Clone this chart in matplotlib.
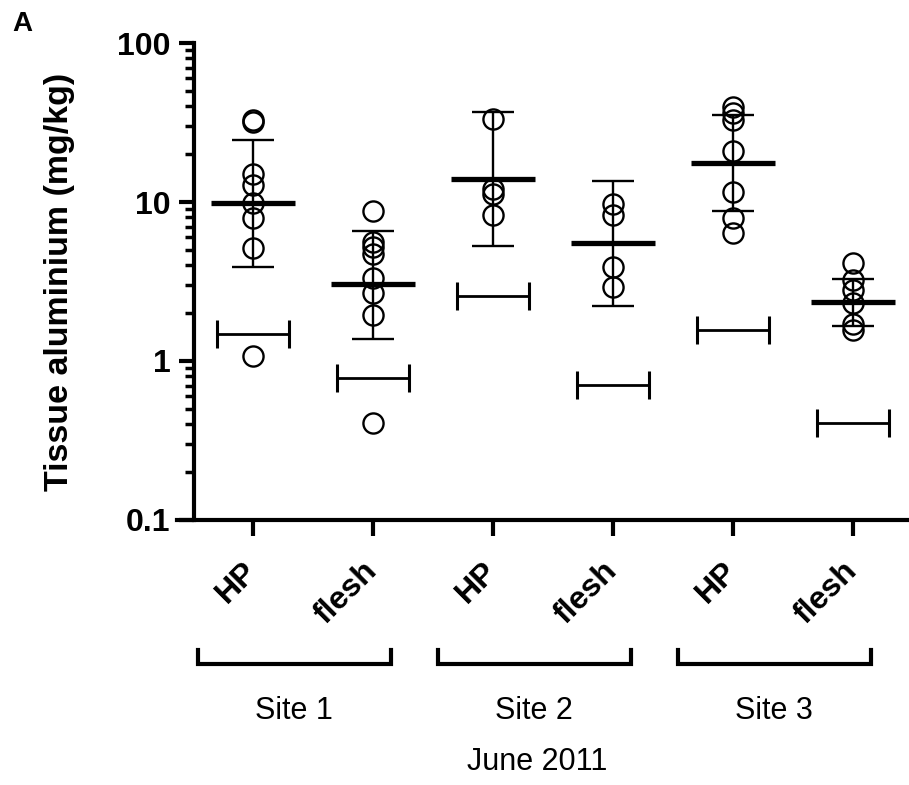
import numpy as np
import matplotlib
matplotlib.use("Agg")
import matplotlib.pyplot as plt
import matplotlib.transforms as mtransforms

plt.rcParams['font.family'] = ['Liberation Sans', 'DejaVu Sans']

# groups along the x axis
groups = ["HP", "flesh", "HP", "flesh", "HP", "flesh"]
sites = ["Site 1", "Site 2", "Site 3"]

# individual measurements (mg/kg)
hp_site1 = [32.9, 31.8, 15.1, 12.8, 9.9, 7.96, 5.14, 1.07]
flesh_site1 = [8.8, 5.6, 5.2, 4.7, 3.35, 2.67, 1.96, 0.41]
hp_site2 = [33.4, 12.0, 11.3, 8.24]
flesh_site2 = [9.67, 8.24, 3.88, 2.94]
hp_site3 = [39.5, 36.2, 32.6, 20.8, 11.6, 7.96, 6.4]
flesh_site3 = [4.13, 3.24, 2.80, 2.30, 1.72, 1.56]
points = [hp_site1, flesh_site1, hp_site2, flesh_site2, hp_site3, flesh_site3]

# mean line and error bar ends
means = [9.8, 3.05, 13.9, 5.5, 17.6, 2.35]
err_low = [3.9, 1.38, 5.3, 2.22, 8.8, 1.65]
err_high = [24.7, 6.6, 36.6, 13.6, 35.2, 3.3]

# separate reference bars below each group
ref_vals = [1.48, 0.78, 2.56, 0.71, 1.56, 0.41]

fig = plt.figure(figsize=(9.09, 7.85), dpi=100)
ax = fig.add_axes([194 / 909, 0.3376, 715 / 909, 0.6076])

x = np.arange(len(groups))

for i, vals in enumerate(points):
    ax.plot([x[i]] * len(vals), vals, 'o', ms=14.5, mfc='none', mec='black',
            mew=1.7, zorder=3, clip_on=False)
    ax.errorbar(x[i], means[i],
                yerr=[[means[i] - err_low[i]], [err_high[i] - means[i]]],
                fmt='none', ecolor='black', elinewidth=1.7, capsize=15,
                capthick=1.7, zorder=2)
    ax.hlines(means[i], x[i] - 0.35, x[i] + 0.35, colors='black', lw=3.8,
              zorder=4)
    ax.errorbar(x[i], ref_vals[i], xerr=0.3, fmt='none', ecolor='black',
                elinewidth=2, capsize=10, capthick=2.2)

ax.set_yscale('log')
ax.set_ylim(0.1, 100)
ax.set_xlim(-0.49, 5.467)
ax.set_yticks([0.1, 1, 10, 100])
ax.set_yticklabels(["0.1", "1", "10", "100"])
ax.set_xticks(x)
ax.set_xticklabels(groups, rotation=45, ha='right', va='center',
                   rotation_mode='anchor')

for lab in ax.get_xticklabels() + ax.get_yticklabels():
    lab.set_fontweight('bold')
    lab.set_fontsize(23)

ax.tick_params(axis='y', which='major', length=11, width=3, pad=6)
ax.tick_params(axis='y', which='minor', length=6.5, width=2.5)
ax.tick_params(axis='x', which='major', length=11.5, width=3, pad=22)

ax.spines['top'].set_visible(False)
ax.spines['right'].set_visible(False)
ax.spines['left'].set_linewidth(3)
ax.spines['bottom'].set_linewidth(3)
ax.spines['bottom'].set_bounds(-0.49 - 17 / 120, 5.467)

ax.set_ylabel("Tissue aluminium (mg/kg)", fontsize=24.5, fontweight='bold',
              labelpad=30)

# site brackets and labels
trans = mtransforms.blended_transform_factory(ax.transData, ax.transAxes)
for k, site in enumerate(sites):
    x0 = 2 * k - 0.46
    x1 = 2 * k + 1.15
    ax.plot([x0, x0, x1, x1], [-0.273, -0.3025, -0.3025, -0.273],
            color='black', lw=3, transform=trans, clip_on=False,
            solid_joinstyle='miter')
    ax.text((x0 + x1) / 2, -0.401, site, transform=trans, ha='center',
            va='center', fontsize=22)

ax.text(2.37, -0.508, "June 2011", transform=trans, ha='center', va='center',
        fontsize=22)

fig.text(12 / 909, 1 - 24 / 785, "A", fontsize=20, fontweight='bold',
         va='center', ha='left')

fig.savefig("out.png", dpi=100)
